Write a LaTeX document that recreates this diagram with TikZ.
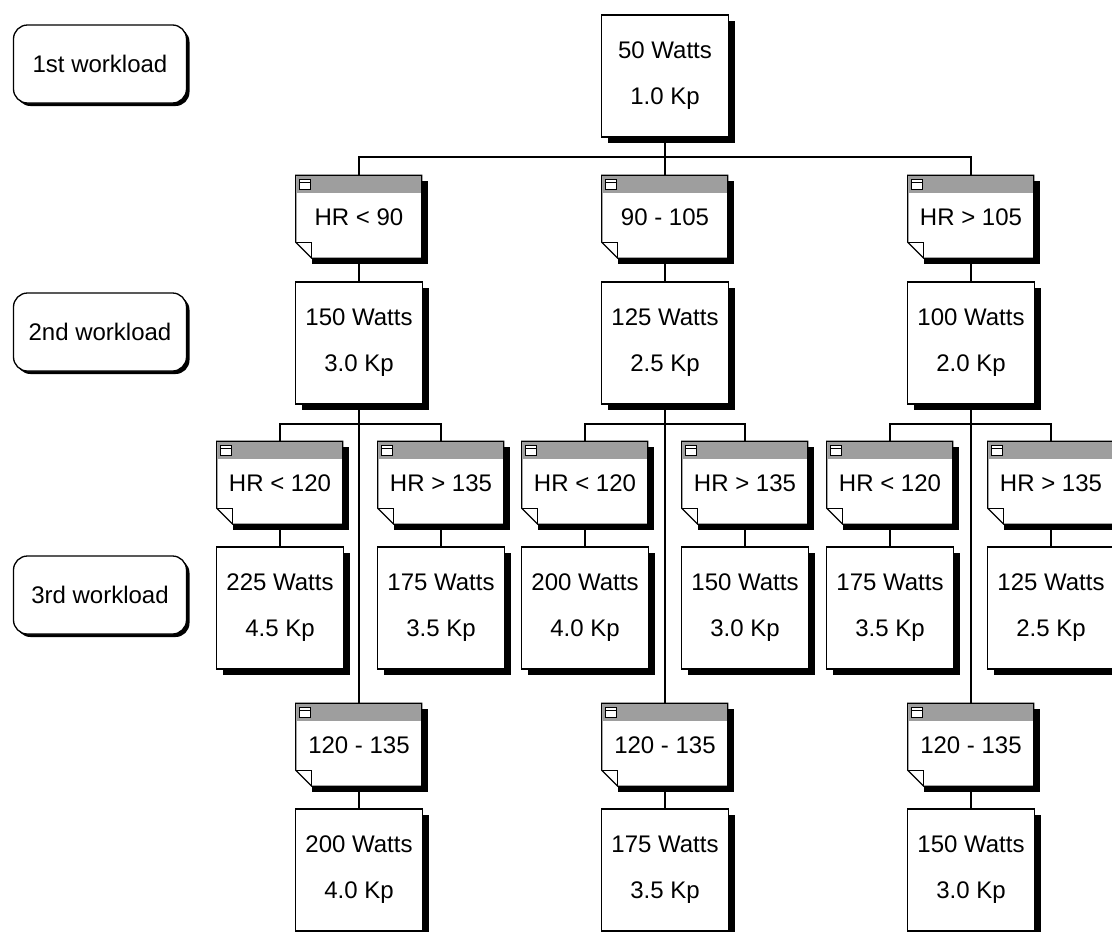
\documentclass[tikz,border=0pt]{standalone}
\usepackage{fontspec}
\setmainfont{Liberation Sans}
\usetikzlibrary{shadows,calc}
\pgfdeclarelayer{paper}
\pgfdeclarelayer{bg}
\pgfsetlayers{paper,bg,main}
\tikzset{
  base/.style={font=\fontsize{24}{46}\selectfont, align=center, inner sep=0pt},
  wbox/.style={base, draw, fill=white, line width=1.3pt, minimum width=127pt, minimum height=122pt,
    drop shadow={shadow xshift=6pt, shadow yshift=-6pt, fill=black, opacity=1}},
  sidebox/.style={base, draw, fill=white, line width=1.3pt, rounded corners=14pt,
    minimum width=173pt, minimum height=78pt,
    drop shadow={shadow xshift=3pt, shadow yshift=-3pt, fill=black, opacity=1}},
  notebox/.style={base, minimum width=126pt, minimum height=83pt},
  conn/.style={line width=1.3pt},
}
\newcommand\notenode[4]{%
  \node[notebox] (#1) at (#2,#3) {#4};
  \begin{pgfonlayer}{bg}
  \begin{scope}[shift={(#1.north west)}]
    \fill[black] (16,6) rectangle (132,89);
    \filldraw[fill=white, line width=1.3pt] (0,0) -- (126,0) -- (126,83) -- (16,83) -- (0,67) -- cycle;
    \fill[black!38] (0.7,0.7) rectangle (125.3,18);
    \filldraw[fill=white, line width=0.9pt] (4,4) rectangle (15,14);
    \draw[line width=0.9pt] (4,7.5) -- (15,7.5);
    \draw[line width=1.3pt] (0,67) -- (16,67) -- (16,83);
  \end{scope}
  \end{pgfonlayer}}
\begin{document}
\begin{tikzpicture}[x=1pt, y=-1pt]
\clip (0,0) rectangle (1112,932);
\begin{pgfonlayer}{paper}
\fill[white] (0,0) rectangle (1112,932);
\end{pgfonlayer}

% side labels
\node[sidebox] (l1) at (100,64) {1st workload};
\node[sidebox] (l2) at (100,332) {2nd workload};
\node[sidebox] (l3) at (100,595) {3rd workload};

% top
\node[wbox] (t0) at (665,76) {50 Watts\\1.0 Kp};

% level 1 notes
\notenode{n1a}{359}{217}{HR < 90}
\notenode{n1b}{665}{217}{90 - 105}
\notenode{n1c}{971}{217}{HR > 105}

% level 1 workloads
\node[wbox] (w1a) at (359,343) {150 Watts\\3.0 Kp};
\node[wbox] (w1b) at (665,343) {125 Watts\\2.5 Kp};
\node[wbox] (w1c) at (971,343) {100 Watts\\2.0 Kp};

% level 2 notes
\notenode{n2a}{280}{483}{HR < 120}
\notenode{n2b}{441}{483}{HR > 135}
\notenode{n2c}{585}{483}{HR < 120}
\notenode{n2d}{745}{483}{HR > 135}
\notenode{n2e}{890}{483}{HR < 120}
\notenode{n2f}{1051}{483}{HR > 135}

% level 2 workloads
\node[wbox] (w2a) at (280,608) {225 Watts\\4.5 Kp};
\node[wbox] (w2b) at (441,608) {175 Watts\\3.5 Kp};
\node[wbox] (w2c) at (585,608) {200 Watts\\4.0 Kp};
\node[wbox] (w2d) at (745,608) {150 Watts\\3.0 Kp};
\node[wbox] (w2e) at (890,608) {175 Watts\\3.5 Kp};
\node[wbox] (w2f) at (1051,608) {125 Watts\\2.5 Kp};

% level 3 notes
\notenode{n3a}{359}{745}{120 - 135}
\notenode{n3b}{665}{745}{120 - 135}
\notenode{n3c}{971}{745}{120 - 135}

% bottom workloads
\node[wbox] (w3a) at (359,870) {200 Watts\\4.0 Kp};
\node[wbox] (w3b) at (665,870) {175 Watts\\3.5 Kp};
\node[wbox] (w3c) at (971,870) {150 Watts\\3.0 Kp};

% connectors
\coordinate (h1) at (665,157);
\draw[conn] (t0) -- (n1b);
\draw[conn] (n1a.north) |- (h1) -| (n1c.north);
\draw[conn] (n1a) -- (w1a);
\draw[conn] (n1b) -- (w1b);
\draw[conn] (n1c) -- (w1c);

\coordinate (h2a) at (359,424);
\coordinate (h2b) at (665,424);
\coordinate (h2c) at (971,424);
\draw[conn] (w1a) -- (n3a);
\draw[conn] (w1b) -- (n3b);
\draw[conn] (w1c) -- (n3c);
\draw[conn] (n2a.north) |- (h2a) -| (n2b.north);
\draw[conn] (n2c.north) |- (h2b) -| (n2d.north);
\draw[conn] (n2e.north) |- (h2c) -| (n2f.north);

\draw[conn] (n2a) -- (w2a);
\draw[conn] (n2b) -- (w2b);
\draw[conn] (n2c) -- (w2c);
\draw[conn] (n2d) -- (w2d);
\draw[conn] (n2e) -- (w2e);
\draw[conn] (n2f) -- (w2f);

\draw[conn] (n3a) -- (w3a);
\draw[conn] (n3b) -- (w3b);
\draw[conn] (n3c) -- (w3c);
\end{tikzpicture}
\end{document}
